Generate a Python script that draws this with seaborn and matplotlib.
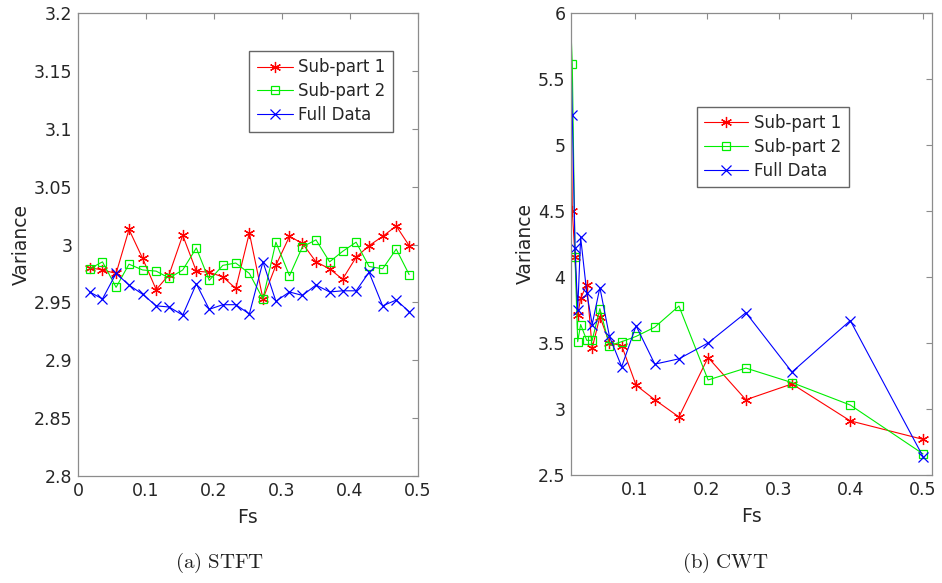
import numpy as np
import pandas as pd
import seaborn as sns
import matplotlib.pyplot as plt
from matplotlib.ticker import FuncFormatter

sns.set_style("white")
plt.rcParams['font.family'] = ['DejaVu Sans']
plt.rcParams['mathtext.fontset'] = 'cm'

# STFT panel (a)
stft_fs = [0.017, 0.036, 0.056, 0.075, 0.095, 0.115, 0.134, 0.154, 0.174, 0.193,
           0.213, 0.232, 0.252, 0.272, 0.291, 0.311, 0.330, 0.350, 0.370, 0.389,
           0.409, 0.428, 0.448, 0.468, 0.487]
stft_sub1 = [2.980, 2.978, 2.975, 3.013, 2.988, 2.961, 2.974, 3.008, 2.977, 2.976,
             2.972, 2.962, 3.010, 2.953, 2.982, 3.007, 3.001, 2.985, 2.979, 2.970,
             2.989, 2.999, 3.007, 3.016, 2.999]
stft_sub2 = [2.979, 2.985, 2.963, 2.983, 2.978, 2.977, 2.971, 2.978, 2.997, 2.969,
             2.982, 2.984, 2.975, 2.953, 3.002, 2.973, 2.998, 3.004, 2.985, 2.994,
             3.002, 2.981, 2.979, 2.996, 2.974]
stft_full = [2.959, 2.953, 2.975, 2.965, 2.957, 2.947, 2.946, 2.939, 2.966, 2.944,
             2.948, 2.948, 2.940, 2.985, 2.951, 2.959, 2.956, 2.965, 2.959, 2.960,
             2.960, 2.976, 2.947, 2.952, 2.942]

# CWT panel (b) - first point sits just left of the axis limit
cwt_fs = [0.0102, 0.0129, 0.0167, 0.0204, 0.0245, 0.0330, 0.0405, 0.0512, 0.0645,
          0.0815, 0.1015, 0.1275, 0.1610, 0.2015, 0.2540, 0.3180, 0.3990, 0.5000]
cwt_sub1 = [5.85, 4.50, 4.15, 3.71, 3.84, 3.94, 3.46, 3.70, 3.50,
            3.48, 3.18, 3.07, 2.94, 3.39, 3.07, 3.19, 2.91, 2.77]
cwt_sub2 = [5.99, 5.61, 4.15, 3.51, 3.64, 3.52, 3.52, 3.76, 3.48,
            3.51, 3.55, 3.62, 3.78, 3.22, 3.31, 3.20, 3.03, 2.66]
cwt_full = [5.93, 5.23, 4.22, 3.75, 4.30, 3.88, 3.64, 3.92, 3.55,
            3.32, 3.63, 3.34, 3.38, 3.50, 3.73, 3.28, 3.67, 2.64]

labels = ['Sub-part 1', 'Sub-part 2', 'Full Data']
spine_col = '#8c8c8c'
fmt = FuncFormatter(lambda v, p: '%g' % round(v, 4))


def draw(ax, fs, s1, s2, full):
    sns.lineplot(x=fs, y=s1, ax=ax, color='#ff0000', lw=0.8, marker=(6, 2, 0),
                 ms=8, mec='#ff0000', mew=0.9, label=labels[0])
    sns.lineplot(x=fs, y=s2, ax=ax, color='#00ee00', lw=0.8, marker='s',
                 ms=5.5, mfc='none', mec='#00ee00', mew=0.9, label=labels[1])
    sns.lineplot(x=fs, y=full, ax=ax, color='#0000ff', lw=0.8, marker='x',
                 ms=6.5, mec='#0000ff', mew=0.9, label=labels[2])
    ax.tick_params(direction='in', top=True, right=True, length=4, width=0.8,
                   color=spine_col, labelsize=12.5, labelcolor='#262626', pad=4)
    for sp in ax.spines.values():
        sp.set_color(spine_col)
        sp.set_linewidth(0.9)
    ax.xaxis.set_major_formatter(fmt)
    ax.yaxis.set_major_formatter(fmt)
    ax.set_xlabel('Fs', fontsize=13.5, color='#262626', labelpad=6)
    ax.set_ylabel('Variance', fontsize=13.5, color='#262626', labelpad=2)


fig = plt.figure(figsize=(9.42, 5.83), dpi=100)
ax1 = fig.add_axes([78 / 942, 107 / 583, 340 / 942, 463 / 583])
ax2 = fig.add_axes([571 / 942, 108 / 583, 361 / 942, 462 / 583])

draw(ax1, stft_fs, stft_sub1, stft_sub2, stft_full)
ax1.set_xlim(0, 0.5)
ax1.set_ylim(2.8, 3.2)
ax1.set_xticks([0, 0.1, 0.2, 0.3, 0.4, 0.5])
ax1.set_yticks(np.linspace(2.8, 3.2, 9))
ax1.legend(loc='upper left', bbox_to_anchor=(0.503, 0.918), fontsize=12,
           fancybox=False, edgecolor='#666666', framealpha=1, handlelength=2.2,
           borderpad=0.45, labelspacing=0.35, handletextpad=0.3, borderaxespad=0)

draw(ax2, cwt_fs, cwt_sub1, cwt_sub2, cwt_full)
ax2.set_xlim(0.0111, 0.5125)
ax2.set_ylim(2.5, 6)
ax2.set_xticks([0.1, 0.2, 0.3, 0.4, 0.5])
ax2.set_yticks(np.linspace(2.5, 6, 8))
ax2.legend(loc='upper left', bbox_to_anchor=(0.349, 0.797), fontsize=12,
           fancybox=False, edgecolor='#666666', framealpha=1, handlelength=2.6,
           borderpad=0.45, labelspacing=0.35, handletextpad=0.4, borderaxespad=0)
# like MATLAB, no marker for the point outside the x limit
for ln in ax2.get_lines():
    ln.set_markevery(slice(1, None))

fig.text(220 / 942, 1 - 563 / 583, r'$\mathrm{(a)\ STFT}$', fontsize=15,
         ha='center', va='center', color='#222222')
fig.text(725 / 942, 1 - 563 / 583, r'$\mathrm{(b)\ CWT}$', fontsize=15,
         ha='center', va='center', color='#222222')

fig.savefig('out.png', dpi=100, facecolor='white')
